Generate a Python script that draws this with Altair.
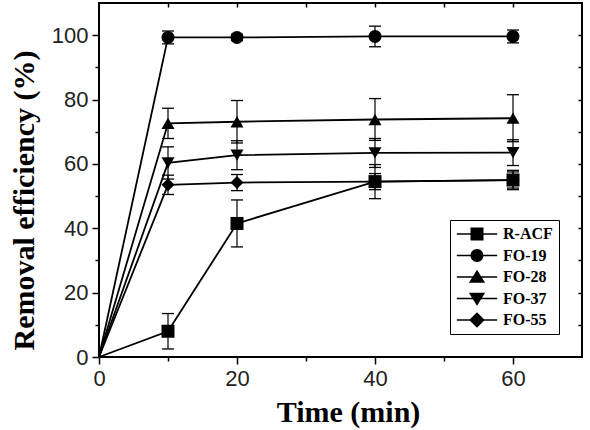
import altair as alt
import pandas as pd

# Contact time (min)
times = [0, 10, 20, 40, 60]

series = ["R-ACF", "FO-19", "FO-28", "FO-37", "FO-55"]

# Removal efficiency (%) and standard deviation per sample
r_acf = [0, 8.0, 41.5, 54.5, 55.0]
r_acf_err = [0, 5.5, 7.3, 5.3, 3.0]
fo19 = [0, 99.3, 99.3, 99.6, 99.6]
fo19_err = [0, 2.0, 1.0, 3.2, 2.0]
fo28 = [0, 72.6, 73.1, 73.8, 74.2]
fo28_err = [0, 4.7, 6.6, 6.5, 7.3]
fo37 = [0, 60.3, 62.7, 63.4, 63.5]
fo37_err = [0, 5.0, 4.5, 4.5, 4.0]
fo55 = [0, 53.5, 54.2, 54.5, 55.0]
fo55_err = [0, 3.0, 2.5, 2.5, 2.5]

values = [r_acf, fo19, fo28, fo37, fo55]
errors = [r_acf_err, fo19_err, fo28_err, fo37_err, fo55_err]

rows = []
for name, vals, errs in zip(series, values, errors):
    for t, v, e in zip(times, vals, errs):
        rows.append({"sample": name, "t": t, "v": v, "lo": v - e, "hi": v + e})
df = pd.DataFrame(rows)

marker_shapes = ["square", "circle", "triangle-up", "triangle-down", "diamond"]
marker_sizes = [169, 169, 300, 300, 230]

# legend glyphs: a thin bar (the line) through the filled marker, all wound clockwise
bar = "M-3.1,-0.13H3.1V0.13H-3.1Z"
legend_paths = [
    bar + "M-1,-1H1V1H-1Z",
    bar + "M-1,0A1,1,0,1,1,1,0A1,1,0,1,1,-1,0Z",
    bar + "M0,-1.1L1.25,0.9L-1.25,0.9Z",
    bar + "M0,1.1L-1.25,-0.9L1.25,-0.9Z",
    bar + "M-1.2,0L0,-1.2L1.2,0L0,1.2Z",
]

xs = alt.Scale(domain=[0, 70], nice=False, zero=False)
ys = alt.Scale(domain=[0, 110], nice=False, zero=False)

base = alt.Chart(df)
marked = base.transform_filter("datum.t > 0")

lines = base.mark_line(color="black", strokeWidth=1.8).encode(
    x=alt.X("t:Q", scale=xs, axis=None),
    y=alt.Y("v:Q", scale=ys, axis=None),
    detail="sample:N",
)

err_rules = marked.mark_rule(color="black", strokeWidth=1.2).encode(
    x=alt.X("t:Q", scale=xs, axis=None),
    y=alt.Y("lo:Q", scale=ys, axis=None),
    y2="hi:Q",
)

cap_lo = marked.mark_point(shape="stroke", size=144, color="black", strokeWidth=1.3, opacity=1).encode(
    x=alt.X("t:Q", scale=xs, axis=None),
    y=alt.Y("lo:Q", scale=ys, axis=None),
)
cap_hi = marked.mark_point(shape="stroke", size=144, color="black", strokeWidth=1.3, opacity=1).encode(
    x=alt.X("t:Q", scale=xs, axis=None),
    y=alt.Y("hi:Q", scale=ys, axis=None),
)

points = marked.mark_point(filled=True, color="black", opacity=1).encode(
    x=alt.X("t:Q", scale=xs, axis=None),
    y=alt.Y("v:Q", scale=ys, axis=None),
    shape=alt.Shape("sample:N", scale=alt.Scale(domain=series, range=marker_shapes), legend=None),
    size=alt.Size("sample:N", scale=alt.Scale(domain=series, range=marker_sizes), legend=None),
)

legend_layer = marked.mark_point(opacity=0, filled=True, color="black").encode(
    x=alt.X("t:Q", scale=xs, axis=None),
    y=alt.Y("v:Q", scale=ys, axis=None),
    shape=alt.Shape(
        "sample:N",
        scale=alt.Scale(domain=series, range=legend_paths),
        legend=alt.Legend(
            title=None,
            orient="none",
            legendX=351,
            legendY=217,
            strokeColor="black",
            fillColor="white",
            padding=6,
            symbolSize=169,
            symbolFillColor="black",
            symbolStrokeWidth=0,
            symbolOpacity=1,
            symbolOffset=13,
            labelOffset=18,
            labelFont="Liberation Serif",
            labelFontSize=16,
            labelFontWeight="bold",
            labelColor="black",
            rowPadding=5.5,
        ),
    ),
)

lab = dict(labelFont="Liberation Sans", labelFontSize=22, labelColor="#222222",
           labelFlush=False, labelOverlap=False, labelPadding=4)
tick = dict(tickColor="black", tickWidth=1.5, domain=False, grid=False)
ttl = dict(titleFont="Liberation Serif", titleFontWeight="bold", titleFontSize=30,
           titleColor="black", titleBaseline="alphabetic", titleAlign="center")


def axis_layer(xaxis, yaxis):
    return base.mark_point(opacity=0).encode(
        x=alt.X("t:Q", scale=xs, axis=xaxis),
        y=alt.Y("v:Q", scale=ys, axis=yaxis),
    )


ax_main = axis_layer(
    alt.Axis(orient="bottom", values=[0, 20, 40, 60], tickSize=7, title="Time (min)",
             titleX=249, titleY=64, **lab, **tick, **ttl),
    alt.Axis(orient="left", values=[0, 20, 40, 60, 80, 100], tickSize=7,
             title="Removal efficiency (%)", titleX=-66, titleY=197,
             titleAngle=270, **lab, **tick, **ttl),
)
ax_minor = axis_layer(
    alt.Axis(orient="bottom", values=[10, 30, 50], tickSize=4, labels=False, title=None, **tick),
    alt.Axis(orient="left", values=[10, 30, 50, 70, 90], tickSize=4, labels=False, title=None, **tick),
)
ax_mirror = axis_layer(
    alt.Axis(orient="top", values=[10, 20, 30, 40, 50, 60], tickSize=4, offset=-4,
             labels=False, title=None, **tick),
    alt.Axis(orient="right", values=[10, 20, 30, 40, 50, 60, 70, 80, 90, 100], tickSize=4,
             offset=-4, labels=False, title=None, **tick),
)

chart = (
    alt.layer(ax_main, ax_minor, ax_mirror, lines, err_rules, cap_lo, cap_hi, points, legend_layer)
    .resolve_scale(shape="independent")
    .resolve_axis(x="independent", y="independent")
    .properties(
        width=483,
        height=354,
        autosize=alt.AutoSizeParams(type="none"),
        padding={"left": 99, "top": 3, "right": 8, "bottom": 73},
        background="white",
    )
    .configure_view(stroke="black", strokeWidth=2)
)

chart.save("out.html", embed_options={"renderer": "svg", "actions": False})
